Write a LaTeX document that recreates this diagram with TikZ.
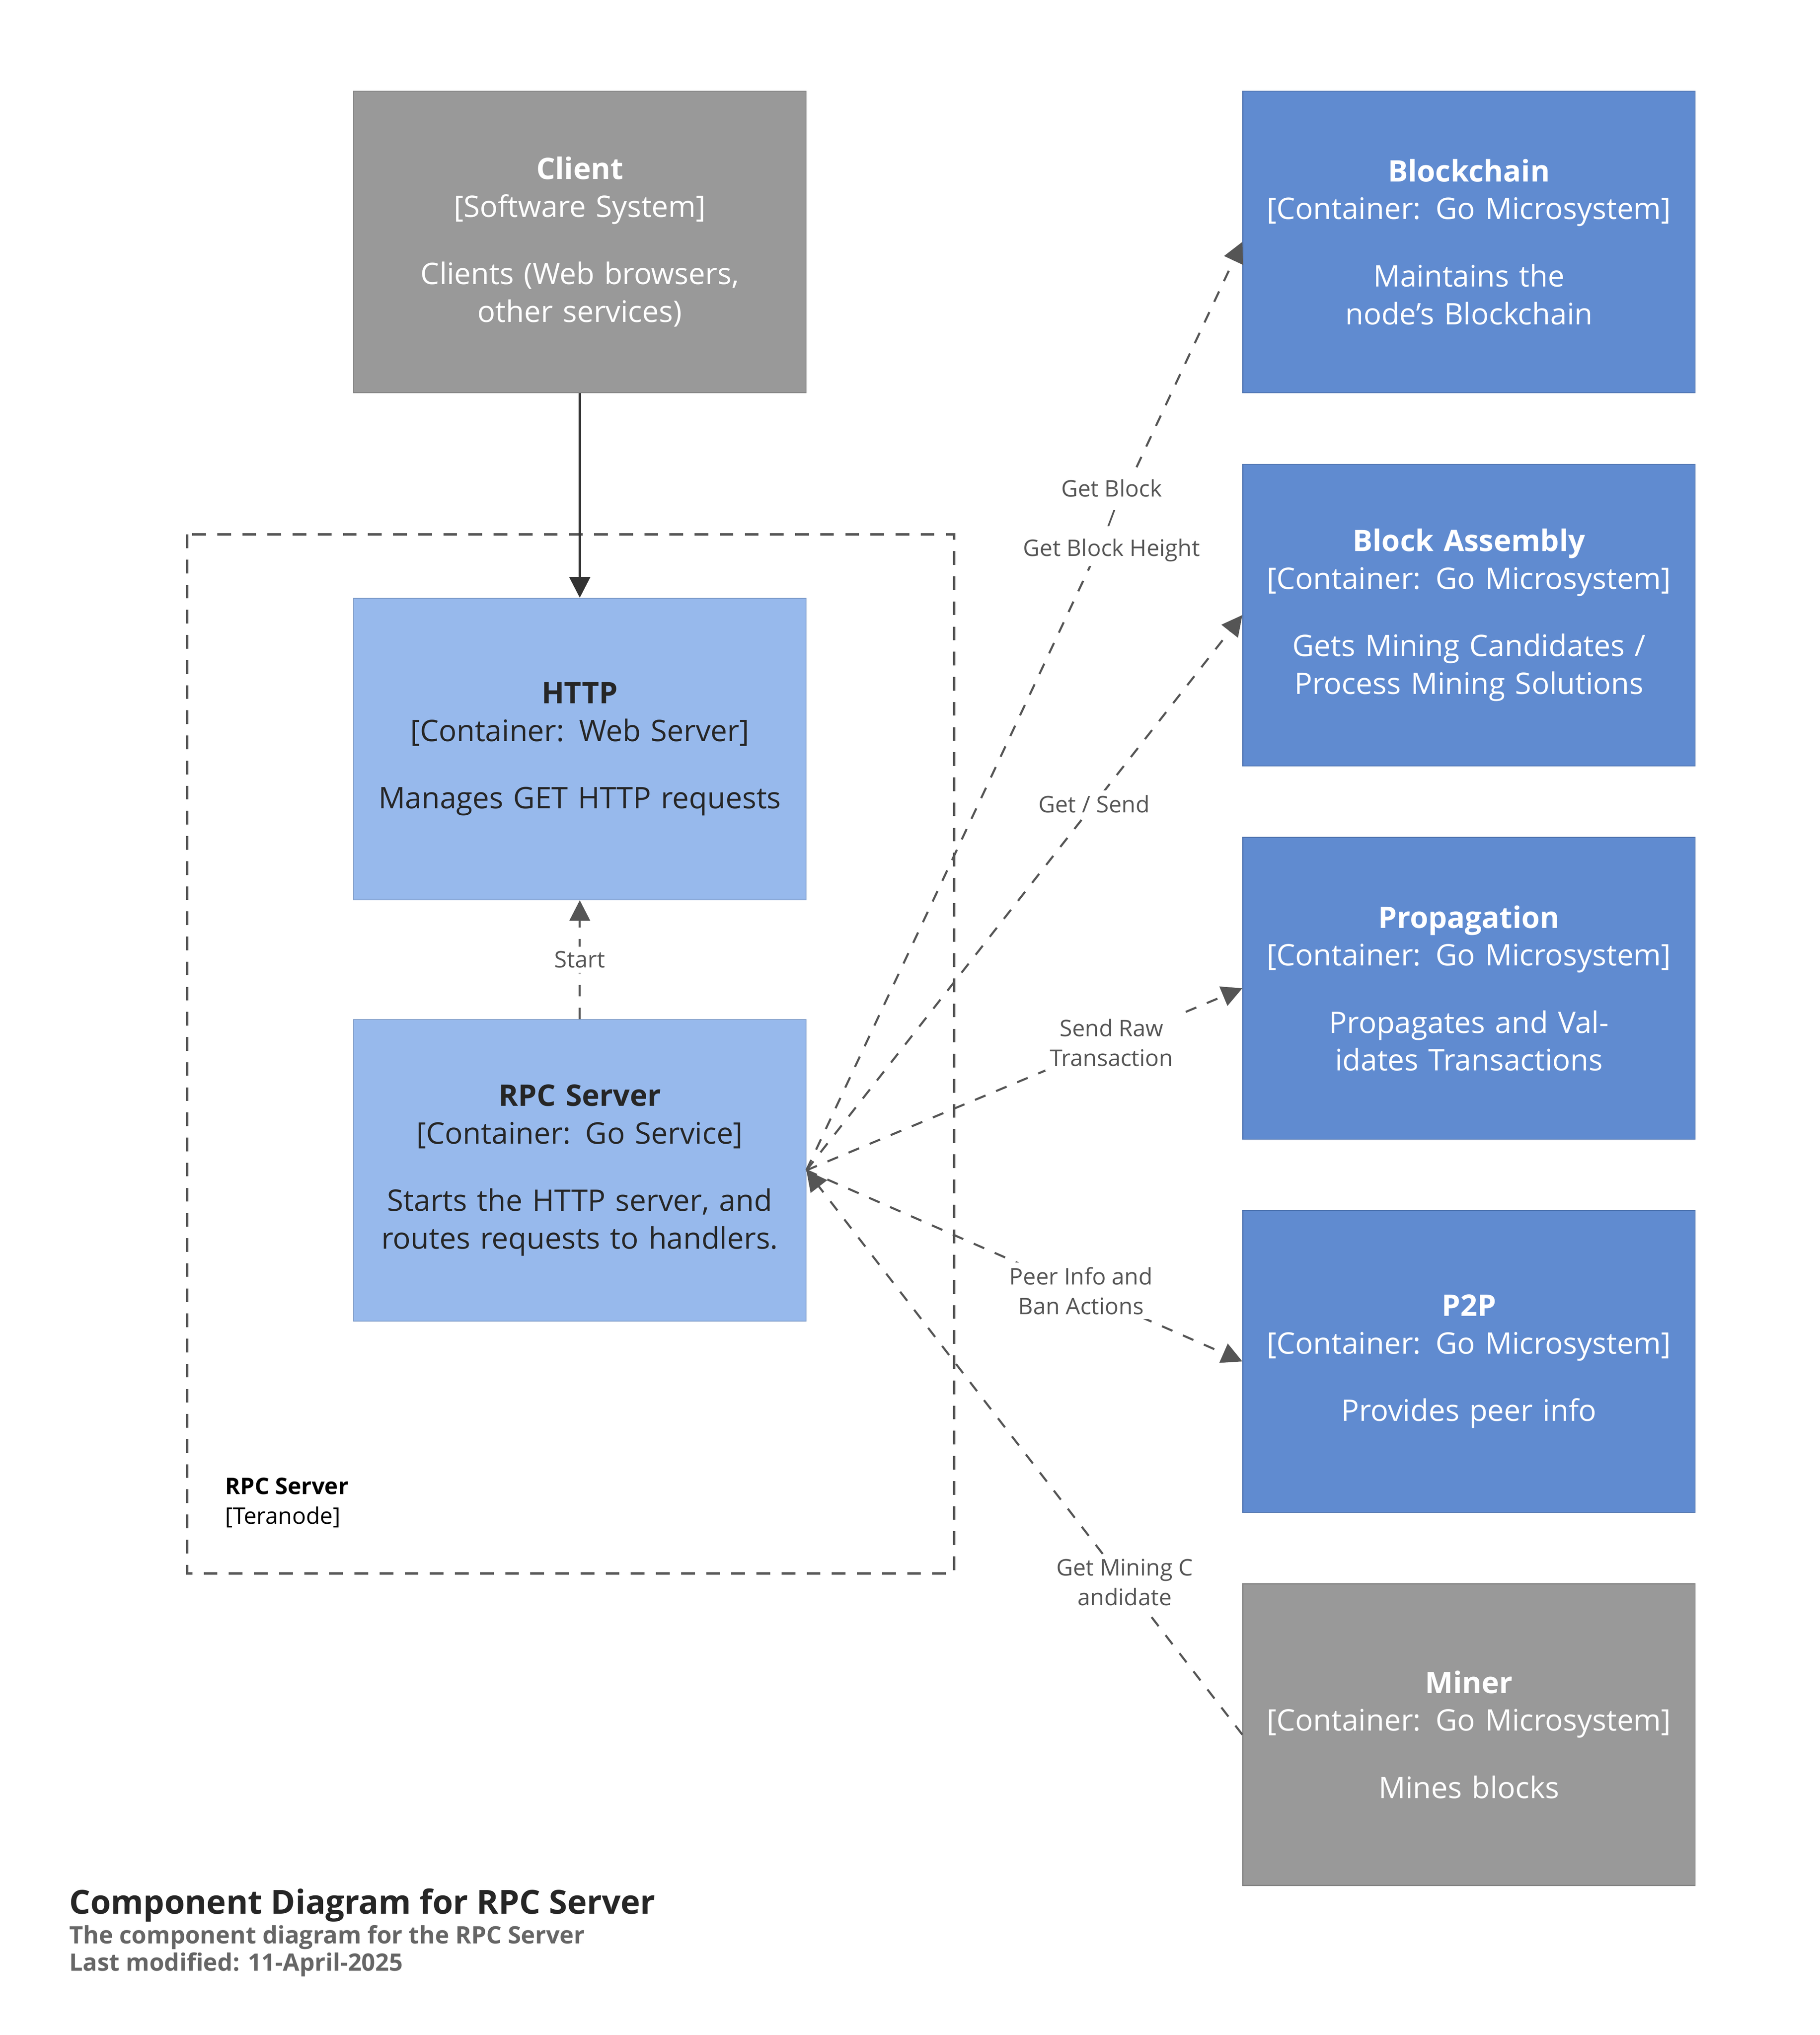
\documentclass[tikz,border=0pt]{standalone}
\usepackage{fontspec}
\setmainfont{Open Sans}
\usetikzlibrary{arrows.meta}
\definecolor{grayBox}{HTML}{999999}
\definecolor{lightBlue}{HTML}{97B9EC}
\definecolor{darkBlue}{HTML}{608BD0}
\definecolor{lineGray}{HTML}{555555}
\tikzset{
  box/.style={draw=#1!85!black, fill=#1, minimum width=6.96cm, minimum height=4.64cm,
    text width=6.4cm, align=center, font=\fontsize{13}{16.5}\selectfont, inner sep=0pt},
  rel/.style={draw=lineGray, line width=0.9pt, dashed, dash pattern=on 5pt off 5pt,
    -{Triangle[length=9pt,width=9pt]}},
  lbl/.style={fill=white, text=lineGray, align=center, font=\fontsize{10}{13}\selectfont, inner sep=2pt},
}
\begin{document}
\begin{tikzpicture}[x=0.02cm, y=-0.02cm]
\useasboundingbox[fill=white] (0,0) rectangle (1400,1565);

% boundary
\draw[lineGray, line width=1pt, dash pattern=on 6pt off 5pt] (144,411) rectangle (734,1210);
\node[anchor=north west, align=left, font=\fontsize{10}{13}\selectfont, inner sep=0pt] (bnd) at (173,1136)
  {\textbf{RPC Server}\\{[}Teranode{]}};

% components
\node[box=grayBox, text=white] (client) at (446,186)
  {\textbf{Client}\\{[}Software System{]}\\[13pt]Clients (Web browsers, other services)};
\node[box=lightBlue, text=black!85] (http) at (446,576)
  {\textbf{HTTP}\\{[}Container: Web Server{]}\\[13pt]Manages GET HTTP requests};
\node[box=lightBlue, text=black!85] (rpc) at (446,900)
  {\textbf{RPC Server}\\{[}Container: Go Service{]}\\[13pt]Starts the HTTP server, and routes requests to handlers.};
\node[box=darkBlue, text=white] (chain) at (1130,186)
  {\textbf{Blockchain}\\{[}Container: Go Microsystem{]}\\[13pt]Maintains the node's Blockchain};
\node[box=darkBlue, text=white] (assembly) at (1130,473)
  {\textbf{Block Assembly}\\{[}Container: Go Microsystem{]}\\[13pt]Gets Mining Candidates / Process Mining Solutions};
\node[box=darkBlue, text=white] (prop) at (1130,760)
  {\textbf{Propagation}\\{[}Container: Go Microsystem{]}\\[13pt]Propagates and Validates Transactions};
\node[box=darkBlue, text=white] (p2p) at (1130,1047)
  {\textbf{P2P}\\{[}Container: Go Microsystem{]}\\[13pt]Provides peer info};
\node[box=grayBox, text=white] (miner) at (1130,1334)
  {\textbf{Miner}\\{[}Container: Go Microsystem{]}\\[13pt]Mines blocks};

% relations
\draw[draw=black!80, line width=1pt, -{Triangle[length=9pt,width=9pt]}] (client) -- (http);
\draw[rel] (rpc) -- node[lbl] {Start} (http);
\draw[rel] (rpc.east) -- node[lbl, pos=0.7] {Get Block\\/\\Get Block Height} (chain.west);
\draw[rel] (rpc.east) -- node[lbl, pos=0.66] {Get / Send} (assembly.west);
\draw[rel] (rpc.east) -- node[lbl, pos=0.7] {Send Raw\\Transaction} (prop.west);
\draw[rel] (rpc.east) -- node[lbl, pos=0.63] {Peer Info and\\Ban Actions} (p2p.west);
\draw[rel] (miner.west) -- node[lbl, pos=0.27] {Get Mining C\\andidate} (rpc.east);

% title
\node[anchor=north west, align=left, inner sep=0pt, text=black!85] (title) at (53,1452)
  {{\fontsize{14.5}{20}\selectfont\bfseries Component Diagram for RPC Server}\\[1pt]
   {\fontsize{10.5}{14}\selectfont\bfseries\color{black!60}The component diagram for the RPC Server}\\
   {\fontsize{10.5}{14}\selectfont\bfseries\color{black!60}Last modified: 11-April-2025}};
\end{tikzpicture}
\end{document}
